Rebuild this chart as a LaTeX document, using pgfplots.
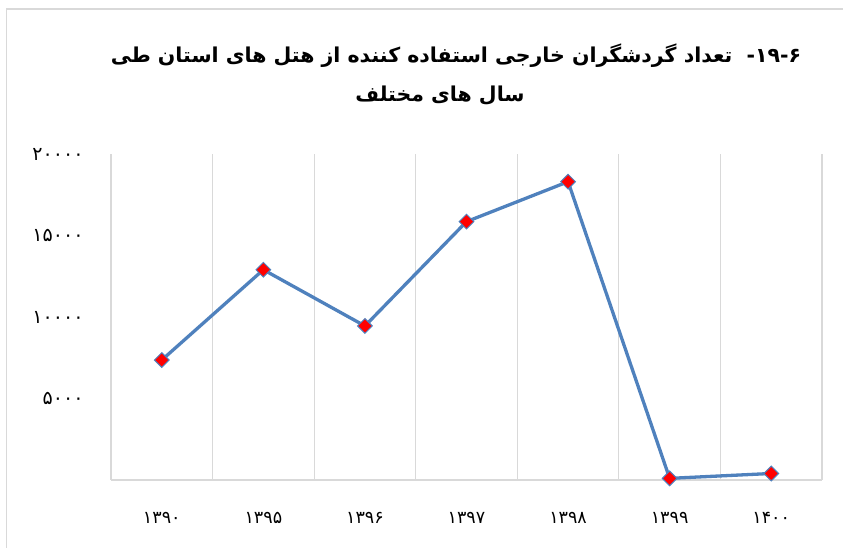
\documentclass[border=0pt]{standalone}
\usepackage{fontspec}
\usepackage{pgfplots}
\pgfplotsset{compat=1.18}
\TeXXeTstate=1
\newfontfamily\arabicfont[Script=Arabic]{DejaVu Sans}
\newfontfamily\arabicbold[Script=Arabic]{DejaVu Sans Bold}
\definecolor{lineblue}{HTML}{4F81BD}
\definecolor{gridgray}{HTML}{D9D9D9}
\begin{document}
\begin{tikzpicture}[x=1pt,y=1pt]
\useasboundingbox (0,0) rectangle (843,548);
\draw[gridgray, line width=1.2pt] (6.5,-10) -- (6.5,539) -- (860,539);
\node[font=\arabicbold\fontsize{20.5}{24}\selectfont, anchor=center] at (456,492)
  {\beginR ۶-\beginL۱۹\endL-\ \ تعداد گردشگران خارجی استفاده کننده از هتل های استان طی\endR};
\node[font=\arabicbold\fontsize{20.5}{24}\selectfont, anchor=center] at (440,452)
  {\beginR سال های مختلف\endR};
\begin{axis}[
  at={(111pt,68pt)}, anchor=south west,
  scale only axis, width=711pt, height=326pt,
  xmin=0.5, xmax=7.5, ymin=0, ymax=20000,
  scaled y ticks=false,
  xtick={1,2,3,4,5,6,7},
  xticklabels={۱۳۹۰,۱۳۹۵,۱۳۹۶,۱۳۹۷,۱۳۹۸,۱۳۹۹,۱۴۰۰},
  minor xtick={0.5,1.5,2.5,3.5,4.5,5.5,6.5,7.5},
  xminorgrids=true,
  minor grid style={gridgray, line width=1.2pt},
  ytick={5000,10000,15000,20000},
  yticklabels={۵۰۰۰,۱۰۰۰۰,۱۵۰۰۰,۲۰۰۰۰},
  major tick length=0pt, minor tick length=0pt,
  axis x line*=bottom, axis y line*=left,
  x axis line style={gridgray, line width=1.2pt, -},
  y axis line style={draw=none},
  xticklabel style={font=\arabicfont\fontsize{17.5}{20}\selectfont, text=black, yshift=-29pt},
  yticklabel style={font=\arabicfont\fontsize{19}{22}\selectfont, text=black, xshift=-24pt},
  clip=false,
]
\addplot[lineblue, line width=3.3pt, mark=square*, mark size=5.2pt,
  mark options={fill=red, draw=lineblue, line width=1pt, rotate=45}]
  coordinates {(1,7360) (2,12900) (3,9450) (4,15850) (5,18300) (6,100) (7,400)};
\end{axis}
\end{tikzpicture}
\end{document}
